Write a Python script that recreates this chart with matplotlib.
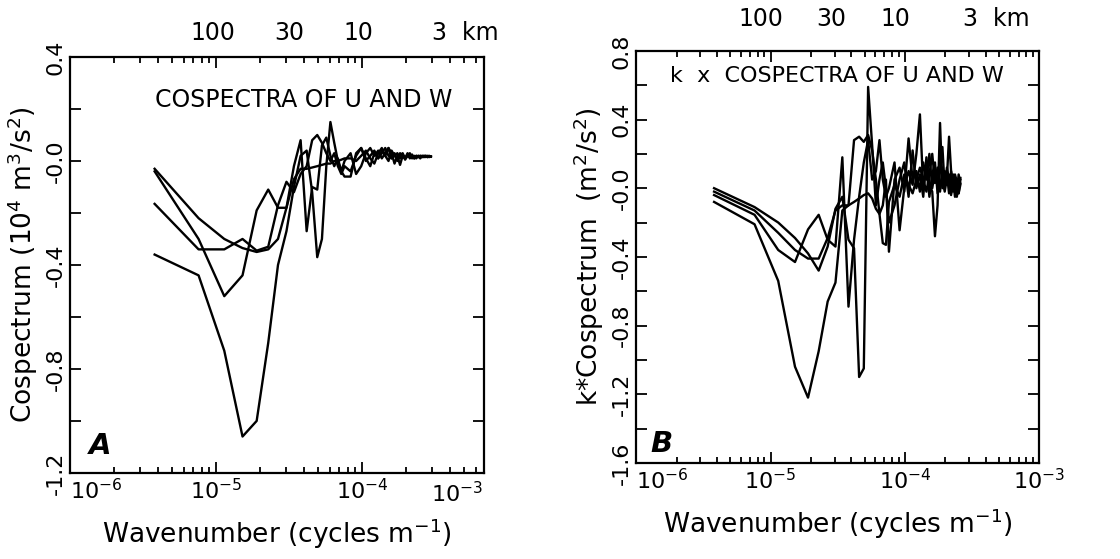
import numpy as np
import matplotlib
matplotlib.use("Agg")
import matplotlib.pyplot as plt
import matplotlib.transforms as mtransforms
from matplotlib.ticker import FixedLocator, FixedFormatter, LogLocator, NullFormatter

plt.rcParams['font.family'] = ['DejaVu Sans']
plt.rcParams['mathtext.fontset'] = 'dejavusans'

# ---------------- data ----------------
# wavenumbers (cycles per m, in units of 1e-6)
k_a = np.array([3.8, 7.6, 11.4, 15.2, 19.0, 22.8, 26.6, 30.4, 34.2, 38.0,
                41.8, 45.6, 49.4, 53.2, 57.0, 60.8, 64.6, 68.4, 72.2, 76.0,
                83.6, 91.2, 98.8, 106.4, 114.0, 121.6, 129.2, 136.8, 144.4, 152.0,
                159.6, 167.2, 174.8, 182.4, 190.0, 197.6, 205.2, 212.8, 220.4, 228.0,
                235.6, 243.2, 250.8, 258.4, 266.0, 273.6, 281.2, 288.8, 296.4]) * 1e-6
k_b = np.array([3.8, 7.6, 11.4, 15.2, 19.0, 22.8, 26.6, 30.4, 34.2, 38.0,
                41.8, 45.6, 49.4, 53.2, 57.0, 60.8, 64.6, 68.4, 72.2, 76.0,
                83.6, 91.2, 98.8, 106.4, 114.0, 121.6, 129.2, 136.8, 144.4, 152.0,
                159.6, 167.2, 174.8, 182.4, 190.0, 197.6, 205.2, 212.8, 220.4, 228.0,
                235.6, 243.2, 250.8, 258.4]) * 1e-6

# Panel A: cospectra (1e4 m^3/s^2)
a1 = [-0.36, -0.44, -0.73, -1.06, -1.00, -0.70, -0.40, -0.27, -0.10, 0.02,
      0.04, -0.12, -0.37, -0.30, -0.02, 0.15, 0.07, 0.00, -0.04, -0.06,
      -0.06, 0.03, 0.05, 0.00, 0.02, 0.04, 0.01, 0.03, 0.05, 0.02,
      0.01, 0.03, 0.00, 0.02, 0.03, 0.01, 0.02, 0.015, 0.025, 0.01,
      0.02, 0.015, 0.02, 0.015, 0.02, 0.015, 0.02, 0.018, 0.017]
a2 = [-0.03, -0.22, -0.30, -0.335, -0.35, -0.34, -0.30, -0.18, -0.07, -0.03,
      -0.03, -0.025, -0.02, -0.015, -0.01, -0.01, 0.00, 0.00, 0.005, 0.01,
      0.01, 0.00, 0.02, 0.04, 0.01, -0.01, 0.03, 0.05, 0.02, 0.00,
      0.04, 0.02, 0.01, 0.03, 0.02, 0.01, 0.025, 0.015, 0.02, 0.01,
      0.02, 0.015, 0.02, 0.015, 0.02, 0.018, 0.015, 0.02, 0.017]
a3 = [-0.04, -0.30, -0.52, -0.44, -0.19, -0.11, -0.18, -0.18, -0.02, 0.08,
      -0.27, -0.10, -0.11, 0.06, 0.09, 0.02, -0.02, 0.01, -0.04, 0.00,
      0.03, -0.05, -0.02, 0.03, 0.05, 0.02, 0.04, 0.01, 0.03, 0.05,
      0.03, -0.01, 0.02, -0.015, 0.02, 0.01, 0.03, 0.01, 0.02, 0.015,
      0.01, 0.02, 0.015, 0.02, 0.015, 0.02, 0.017, 0.015, 0.017]
a4 = [-0.165, -0.34, -0.34, -0.30, -0.345, -0.33, -0.17, -0.08, -0.12, -0.05,
      -0.02, 0.08, 0.10, 0.07, 0.03, 0.00, 0.03, -0.02, -0.05, -0.02,
      -0.04, 0.02, 0.05, 0.01, -0.02, 0.03, 0.01, 0.04, 0.02, 0.05,
      0.01, 0.02, 0.03, 0.01, 0.025, 0.005, 0.02, 0.03, 0.01, 0.02,
      0.015, 0.02, 0.01, 0.02, 0.015, 0.02, 0.015, 0.018, 0.017]

# Panel B: k x cospectra (m^2/s^2)
b1 = [-0.08, -0.21, -0.54, -1.04, -1.22, -0.95, -0.66, -0.55, -0.13, -0.10,
      0.28, 0.30, 0.27, 0.31, 0.22, 0.05, -0.15, -0.10, 0.05, -0.37,
      0.05, 0.12, -0.02, 0.29, 0.05, 0.10, -0.02, 0.15, 0.05, 0.20,
      0.00, 0.10, 0.05, -0.02, 0.12, 0.03, 0.08, -0.03, 0.10, 0.02,
      0.05, -0.02, 0.08, 0.03]
b2 = [-0.04, -0.155, -0.36, -0.43, -0.24, -0.155, -0.30, -0.34, 0.18, -0.69,
      -0.30, -0.05, 0.15, 0.28, 0.05, 0.10, 0.28, 0.05, -0.05, 0.00,
      0.15, -0.245, 0.00, 0.10, 0.02, 0.20, 0.43, 0.00, 0.12, -0.05,
      0.08, 0.15, -0.03, 0.10, 0.24, 0.00, 0.12, 0.05, -0.04, 0.08,
      0.00, -0.05, 0.02, 0.05]
b3 = [0.00, -0.11, -0.20, -0.29, -0.38, -0.48, -0.34, -0.12, -0.05, -0.30,
      -0.35, -1.10, -1.05, 0.59, 0.25, -0.10, 0.05, 0.15, 0.00, -0.20,
      -0.10, 0.05, 0.15, -0.05, 0.22, 0.00, 0.08, -0.05, 0.18, 0.02,
      -0.02, -0.28, -0.10, 0.38, 0.00, 0.10, 0.02, 0.08, -0.03, 0.05,
      -0.05, 0.00, -0.03, 0.02]
b4 = [-0.02, -0.13, -0.26, -0.36, -0.41, -0.41, -0.29, -0.13, -0.10, -0.10,
      -0.08, -0.06, -0.04, -0.03, -0.06, -0.12, -0.15, -0.32, -0.33, -0.08,
      0.02, -0.05, 0.08, 0.02, -0.03, 0.05, 0.12, 0.05, -0.02, 0.08,
      0.20, 0.03, 0.12, 0.00, 0.05, -0.02, 0.06, 0.30, 0.10, -0.02,
      0.08, 0.04, -0.03, 0.06]

x_major = [1e-6, 1e-5, 1e-4, 1e-3]
x_major_labels = ['$10^{-6}$', '$10^{-5}$', '$10^{-4}$', '$10^{-3}$']
top_pos = [1e-5, 3.33e-5, 1e-4]
top_labels = ['100', '30', '10']

# ---------------- figure ----------------
fig = plt.figure(figsize=(11.2, 5.59), dpi=100)
axA = fig.add_axes([0.0625, 0.154, 0.370, 0.744])
axB = fig.add_axes([0.568, 0.172, 0.360, 0.737])

FS = 16
LFS = 19


def style(ax, xmax, ymin, ymax, ylabel, top_y, km_x, top_shift):
    ax.set_xscale('log')
    ax.set_xlim(1e-6, xmax)
    ax.set_ylim(ymin, ymax)
    ax.xaxis.set_major_locator(FixedLocator(x_major))
    ax.xaxis.set_major_formatter(FixedFormatter(x_major_labels))
    ax.xaxis.set_minor_locator(LogLocator(base=10, subs=np.arange(2, 10), numticks=30))
    ax.xaxis.set_minor_formatter(NullFormatter())
    yt = np.round(np.arange(ymin, ymax + 1e-6, 0.2), 2)
    ylabs = []
    for v in yt:
        if abs(round(v / 0.4) * 0.4 - v) < 1e-6:
            ylabs.append('-0.0' if abs(v) < 1e-9 else f'{v:.1f}')
        else:
            ylabs.append('')
    ax.yaxis.set_major_locator(FixedLocator(yt))
    ax.yaxis.set_major_formatter(FixedFormatter(ylabs))
    ax.tick_params(which='both', direction='in', top=True, right=True, width=1.3,
                   labelsize=FS)
    ax.tick_params(which='major', length=8)
    ax.tick_params(which='minor', length=4.5)
    ax.tick_params(axis='y', pad=3)
    ax.tick_params(axis='x', pad=4)
    for lbl in ax.get_yticklabels():
        lbl.set_rotation(90)
        lbl.set_va('center')
    xl = ax.get_xticklabels()
    xl[0].set_ha('left')
    for s in ax.spines.values():
        s.set_linewidth(1.6)
    ax.set_xlabel('Wavenumber (cycles m$^{-1}$)', fontsize=LFS, labelpad=9)
    ax.set_ylabel(ylabel, fontsize=LFS, labelpad=4)
    tr = mtransforms.blended_transform_factory(ax.transData, ax.transAxes)
    for p, s in zip(top_pos, top_labels):
        ax.text(p * top_shift, top_y, s, transform=tr, ha='center', va='center',
                fontsize=17)
    ax.text(km_x, top_y, '3  km', transform=tr, ha='left', va='center', fontsize=17)


# Panel A
for y in (a1, a2, a3, a4):
    axA.plot(k_a, y, color='black', lw=1.7)
style(axA, 6.9e-4, -1.2, 0.4, 'Cospectrum (10$^4$ m$^3$/s$^2$)', 1.058, 3.0e-4, 0.95)
axA.text(0.935, -0.02, '$10^{-3}$', transform=axA.transAxes, ha='center', va='top',
         fontsize=FS)
axA.text(0.205, 0.897, 'COSPECTRA OF U AND W', transform=axA.transAxes,
         ha='left', va='center', fontsize=17)
axA.text(0.045, 0.065, 'A', transform=axA.transAxes, ha='left', va='center',
         fontsize=21, fontweight='bold', style='italic')

# Panel B
for y in (b1, b2, b3, b4):
    axB.plot(k_b, y, color='black', lw=1.7)
style(axB, 1e-3, -1.6, 0.8, 'k*Cospectrum  (m$^2$/s$^2$)', 1.078, 2.7e-4, 0.85)
axB.text(0.084, 0.94, 'k  x  COSPECTRA OF U AND W', transform=axB.transAxes,
         ha='left', va='center', fontsize=16)
axB.text(0.035, 0.045, 'B', transform=axB.transAxes, ha='left', va='center',
         fontsize=21, fontweight='bold', style='italic')

fig.savefig('out.png', dpi=100)
